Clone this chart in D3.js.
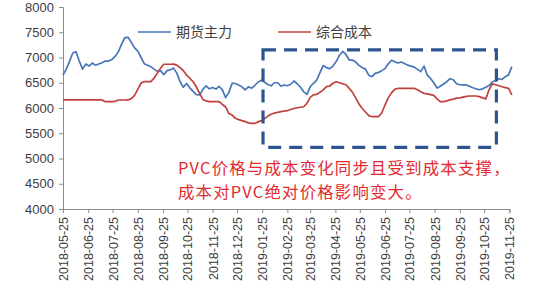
<!DOCTYPE html>
<html>
<head>
<meta charset="utf-8">
<script src="https://cdn.jsdelivr.net/npm/d3@7"></script>
<style>
  body { margin: 0; background: #fff; }
  svg { display: block; }
  .axis text { font-family: "Liberation Sans", Arial, sans-serif; fill: #404040; }
  .cn { font-family: "Noto Sans CJK SC", sans-serif; }
</style>
</head>
<body>
<svg id="chart" width="550" height="292"></svg>
<script>
// sampled every 4 calendar days from 2018-05-25
var startDate = "2018-05-25";
var stepDays = 4;

var futuresMain = [
  6650, 6770, 6920, 7090, 7115, 6930, 6770, 6870, 6830, 6890,
  6845, 6870, 6895, 6930, 6930, 6960, 7020, 7110, 7260, 7395,
  7400, 7300, 7190, 7125, 7000, 6875, 6845, 6818, 6770, 6725,
  6740, 6660, 6740, 6755, 6790, 6690, 6520, 6410, 6485, 6400,
  6330, 6265, 6258, 6370, 6440, 6380, 6405, 6375, 6430, 6360,
  6205, 6310, 6489, 6485, 6455, 6420, 6357, 6420, 6392, 6450,
  6515, 6550, 6510, 6465, 6440, 6500, 6500, 6430, 6455, 6440,
  6470, 6535, 6480, 6415, 6320, 6270, 6420, 6490, 6550, 6700,
  6840, 6800, 6780, 6830, 6920, 7045, 7120, 7060, 6950, 6950,
  6910, 6845, 6800, 6770, 6650, 6620, 6687, 6705, 6740, 6780,
  6875, 6945, 6915, 6890, 6912, 6880, 6848, 6830, 6810, 6765,
  6720, 6830, 6650, 6585, 6500, 6395, 6430, 6475, 6520, 6580,
  6560, 6480, 6460, 6456, 6456, 6430, 6400, 6380, 6362, 6380,
  6412, 6445, 6520, 6540, 6580, 6565, 6620, 6660, 6820
];

var totalCost = [
  6160, 6160, 6160, 6160, 6160, 6160, 6160, 6160, 6160, 6160,
  6160, 6160, 6160, 6125, 6125, 6125, 6130, 6158, 6158, 6158,
  6160, 6185, 6250, 6370, 6495, 6522, 6522, 6522, 6590, 6690,
  6790, 6866, 6866, 6866, 6870, 6850, 6800, 6740, 6650, 6590,
  6520, 6420, 6290, 6170, 6140, 6125, 6125, 6125, 6125, 6070,
  6020, 5890, 5860, 5796, 5770, 5750, 5730, 5705, 5697, 5697,
  5725, 5750, 5790, 5840, 5875, 5900, 5915, 5928, 5940, 5947,
  5970, 5990, 6005, 6015, 6025, 6090, 6210, 6260, 6270, 6310,
  6360, 6425, 6436, 6490, 6520, 6500, 6480, 6460, 6390, 6310,
  6200, 6080, 5990, 5920, 5850, 5828, 5828, 5828, 5900, 6060,
  6200, 6300, 6370, 6390, 6390, 6390, 6390, 6390, 6390, 6360,
  6320, 6290, 6280, 6265, 6250, 6180, 6125, 6125, 6140, 6160,
  6175, 6195, 6200, 6215, 6230, 6238, 6238, 6238, 6225, 6200,
  6180, 6360, 6480, 6460, 6440, 6420, 6405, 6390, 6260
];

var tickDates = [
  "2018-05-25", "2018-06-25", "2018-07-25", "2018-08-25", "2018-09-25",
  "2018-10-25", "2018-11-25", "2018-12-25", "2019-01-25", "2019-02-25",
  "2019-03-25", "2019-04-25", "2019-05-25", "2019-06-25", "2019-07-25",
  "2019-08-25", "2019-09-25", "2019-10-25", "2019-11-25"
];
var yTicks = [4000, 4500, 5000, 5500, 6000, 6500, 7000, 7500, 8000];

var seriesNames = ["期货主力", "综合成本"];
var seriesColors = ["#4676B6", "#C0403D"];

// highlighted window: dates and value range
var boxDates = ["2019-01-26", "2019-11-09"];
var boxValues = [5220, 7150];

var noteLines = ["PVC价格与成本变化同步且受到成本支撑，", "成本对PVC绝对价格影响变大。"];

var parse = d3.timeParse("%Y-%m-%d");
var fmt = d3.timeFormat("%Y-%m-%d");
var t0 = parse(startDate);

var rows = futuresMain.map(function (v, i) {
  return { date: d3.timeDay.offset(t0, i * stepDays), main: v, cost: totalCost[i] };
});

var svg = d3.select("#chart");
var x = d3.scaleTime()
  .domain([parse(tickDates[0]), parse(tickDates[tickDates.length - 1])])
  .range([63, 509.4]);
var y = d3.scaleLinear().domain([4000, 8000]).range([209, 7]);

// y axis
var yAxis = svg.append("g")
  .attr("class", "axis")
  .attr("transform", "translate(63,0)")
  .call(d3.axisLeft(y).tickValues(yTicks).tickSize(4).tickPadding(5).tickFormat(d3.format("d")));
yAxis.selectAll("text").style("font-size", "13px");

// x axis
var xAxis = svg.append("g")
  .attr("class", "axis")
  .attr("transform", "translate(0,209)")
  .call(d3.axisBottom(x).tickValues(tickDates.map(parse)).tickSize(4).tickFormat(fmt));
xAxis.selectAll("text")
  .style("font-size", "12.5px")
  .style("text-anchor", "end")
  .attr("transform", "rotate(-90)")
  .attr("x", -8)
  .attr("y", 0)
  .attr("dy", "0.36em");

svg.selectAll(".axis path, .axis line").attr("stroke", "#8c8c8c");

// lines
var lineMain = d3.line().x(function (d) { return x(d.date); }).y(function (d) { return y(d.main); });
var lineCost = d3.line().x(function (d) { return x(d.date); }).y(function (d) { return y(d.cost); });

svg.append("path").datum(rows)
  .attr("d", lineMain)
  .attr("fill", "none")
  .attr("stroke", seriesColors[0])
  .attr("stroke-width", 1.7)
  .attr("stroke-linejoin", "round");

svg.append("path").datum(rows)
  .attr("d", lineCost)
  .attr("fill", "none")
  .attr("stroke", seriesColors[1])
  .attr("stroke-width", 1.7)
  .attr("stroke-linejoin", "round");

// dashed box
svg.append("rect")
  .attr("x", x(parse(boxDates[0])))
  .attr("y", y(boxValues[1]))
  .attr("width", x(parse(boxDates[1])) - x(parse(boxDates[0])))
  .attr("height", y(boxValues[0]) - y(boxValues[1]))
  .attr("fill", "none")
  .attr("stroke", "#2F5590")
  .attr("stroke-width", 3.2)
  .attr("stroke-dasharray", "13,8");

// legend
var legendX = [138, 278];
seriesNames.forEach(function (name, i) {
  svg.append("line")
    .attr("x1", legendX[i]).attr("x2", legendX[i] + 33)
    .attr("y1", 32).attr("y2", 32)
    .attr("stroke", seriesColors[i])
    .attr("stroke-width", 1.7);
  svg.append("text")
    .attr("class", "cn")
    .attr("x", legendX[i] + 38)
    .attr("y", 37)
    .style("font-size", "14px")
    .attr("fill", "#404040")
    .text(name);
});

// note
noteLines.forEach(function (t, i) {
  svg.append("text")
    .attr("class", "cn")
    .attr("x", 178)
    .attr("y", 174 + i * 24)
    .style("font-size", "16.4px")
    .style("letter-spacing", "1.2px")
    .attr("fill", "#E32A2F")
    .text(t);
});
</script>
</body>
</html>
